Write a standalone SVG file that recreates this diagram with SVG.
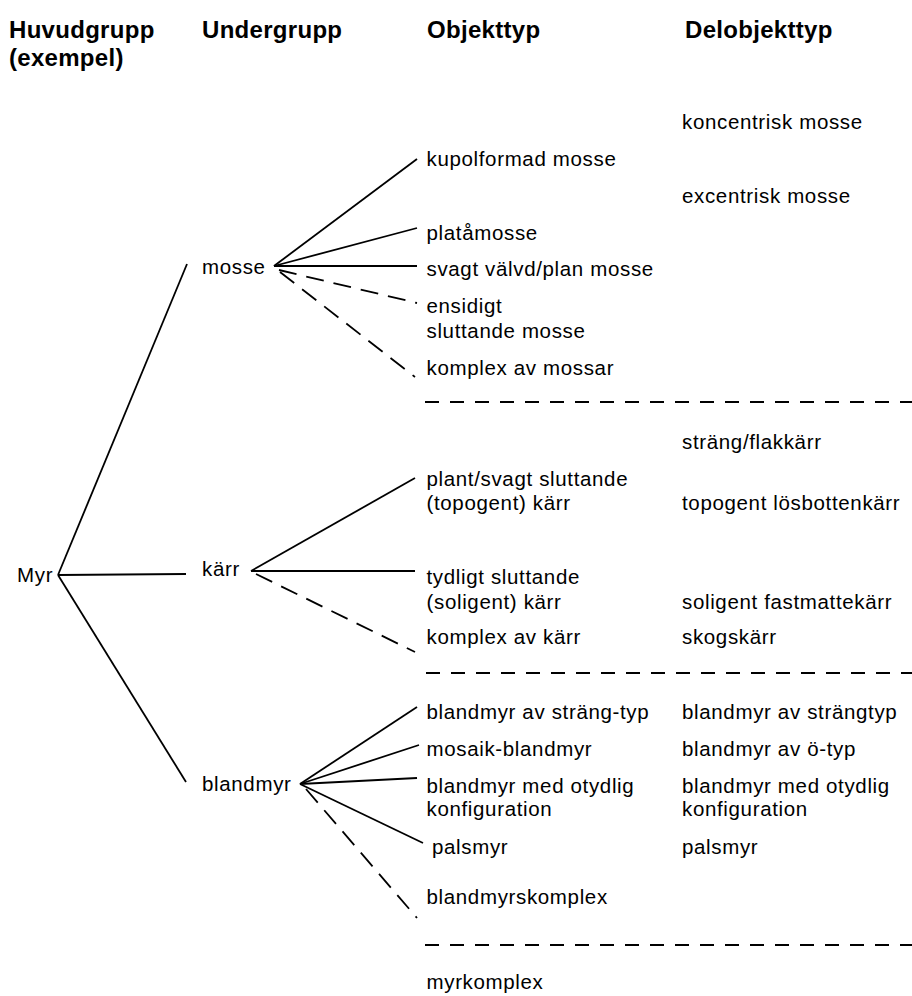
<svg xmlns="http://www.w3.org/2000/svg" width="912" height="996" viewBox="0 0 912 996">
<style>
  .h{font-family:"Liberation Sans",Arial,sans-serif;font-weight:bold;font-size:24px;letter-spacing:0.3px;fill:#000}
  .t{font-family:"Liberation Sans",Arial,sans-serif;font-size:20.5px;letter-spacing:0.65px;fill:#000}
  .c{stroke:#000;stroke-width:1.8;fill:none}
  .d{stroke:#000;stroke-width:1.8;fill:none;stroke-dasharray:18 10}
  .s{stroke:#000;stroke-width:2;fill:none;stroke-dasharray:14 11}
</style>
<rect width="912" height="996" fill="#fff"/>
<g id="headers">
  <text class="h" x="9" y="38">Huvudgrupp</text>
  <text class="h" x="9" y="66">(exempel)</text>
  <text class="h" x="202" y="38">Undergrupp</text>
  <text class="h" x="427" y="38">Objekttyp</text>
  <text class="h" x="685" y="38">Delobjekttyp</text>
</g>
<g id="connectors">
  <line class="c" x1="58" y1="575" x2="187" y2="264"/>
  <line class="c" x1="58" y1="575" x2="186" y2="574"/>
  <line class="c" x1="58" y1="575" x2="186" y2="782"/>
  <line class="c" x1="274" y1="266" x2="417" y2="159"/>
  <line class="c" x1="274" y1="266" x2="417" y2="228"/>
  <line class="c" x1="274" y1="266" x2="417" y2="266"/>
  <line class="d" x1="279" y1="270" x2="417" y2="303"/>
  <line class="d" x1="280" y1="272" x2="415" y2="377"/>
  <line class="c" x1="251" y1="571" x2="415" y2="478"/>
  <line class="c" x1="251" y1="571" x2="415" y2="571"/>
  <line class="d" x1="256" y1="574" x2="415" y2="652"/>
  <line class="c" x1="300" y1="784" x2="417" y2="707"/>
  <line class="c" x1="300" y1="784" x2="419" y2="745"/>
  <line class="c" x1="300" y1="784" x2="417" y2="778"/>
  <line class="c" x1="300" y1="784" x2="423" y2="843"/>
  <line class="d" x1="306" y1="789" x2="417" y2="918"/>
  <line class="s" x1="425" y1="402" x2="912" y2="402"/>
  <line class="s" x1="426" y1="673" x2="912" y2="673"/>
  <line class="s" x1="425" y1="945" x2="912" y2="945"/>
</g>
<g id="myr"><text class="t" x="17" y="582">Myr</text></g>
<g id="mosse"><text class="t" x="202" y="274">mosse</text></g>
<g id="karr"><text class="t" x="202" y="576">kärr</text></g>
<g id="blandmyr"><text class="t" x="202" y="791">blandmyr</text></g>
<g id="kupolformad"><text class="t" x="426.5" y="165.5">kupolformad mosse</text></g>
<g id="platamosse"><text class="t" x="426.5" y="239.5">platåmosse</text></g>
<g id="svagt"><text class="t" x="426.5" y="275.5">svagt välvd/plan mosse</text></g>
<g id="ensidigt"><text class="t" x="426.5" y="312.5">ensidigt</text><text class="t" x="426.5" y="337.5">sluttande mosse</text></g>
<g id="komplex-mossar"><text class="t" x="426.5" y="374.5">komplex av mossar</text></g>
<g id="koncentrisk"><text class="t" x="682" y="128.5">koncentrisk mosse</text></g>
<g id="excentrisk"><text class="t" x="682" y="202.5">excentrisk mosse</text></g>
<g id="strang-flak"><text class="t" x="682" y="448.5">sträng/flakkärr</text></g>
<g id="plant"><text class="t" x="426.5" y="485.5">plant/svagt sluttande</text><text class="t" x="426.5" y="509.5">(topogent) kärr</text></g>
<g id="topogent"><text class="t" x="682" y="509.5">topogent lösbottenkärr</text></g>
<g id="tydligt"><text class="t" x="426.5" y="583.5">tydligt sluttande</text><text class="t" x="426.5" y="608.5">(soligent) kärr</text></g>
<g id="soligent"><text class="t" x="682" y="608.5">soligent fastmattekärr</text></g>
<g id="komplex-karr"><text class="t" x="426.5" y="643.5">komplex av kärr</text></g>
<g id="skogskarr"><text class="t" x="682" y="643.5">skogskärr</text></g>
<g id="strang-typ"><text class="t" x="426.5" y="718.5">blandmyr av sträng-typ</text></g>
<g id="strangtyp"><text class="t" x="682" y="718.5">blandmyr av strängtyp</text></g>
<g id="mosaik"><text class="t" x="426.5" y="755.5">mosaik-blandmyr</text></g>
<g id="o-typ"><text class="t" x="682" y="755.5">blandmyr av ö-typ</text></g>
<g id="otydlig"><text class="t" x="426.5" y="792.5">blandmyr med otydlig</text><text class="t" x="426.5" y="815.5">konfiguration</text></g>
<g id="otydlig2"><text class="t" x="682" y="792.5">blandmyr med otydlig</text><text class="t" x="682" y="815.5">konfiguration</text></g>
<g id="palsmyr"><text class="t" x="432" y="853.5">palsmyr</text></g>
<g id="palsmyr2"><text class="t" x="682" y="853.5">palsmyr</text></g>
<g id="blandmyrskomplex"><text class="t" x="426.5" y="903.5">blandmyrskomplex</text></g>
<g id="myrkomplex"><text class="t" x="426.5" y="989">myrkomplex</text></g>
</svg>
